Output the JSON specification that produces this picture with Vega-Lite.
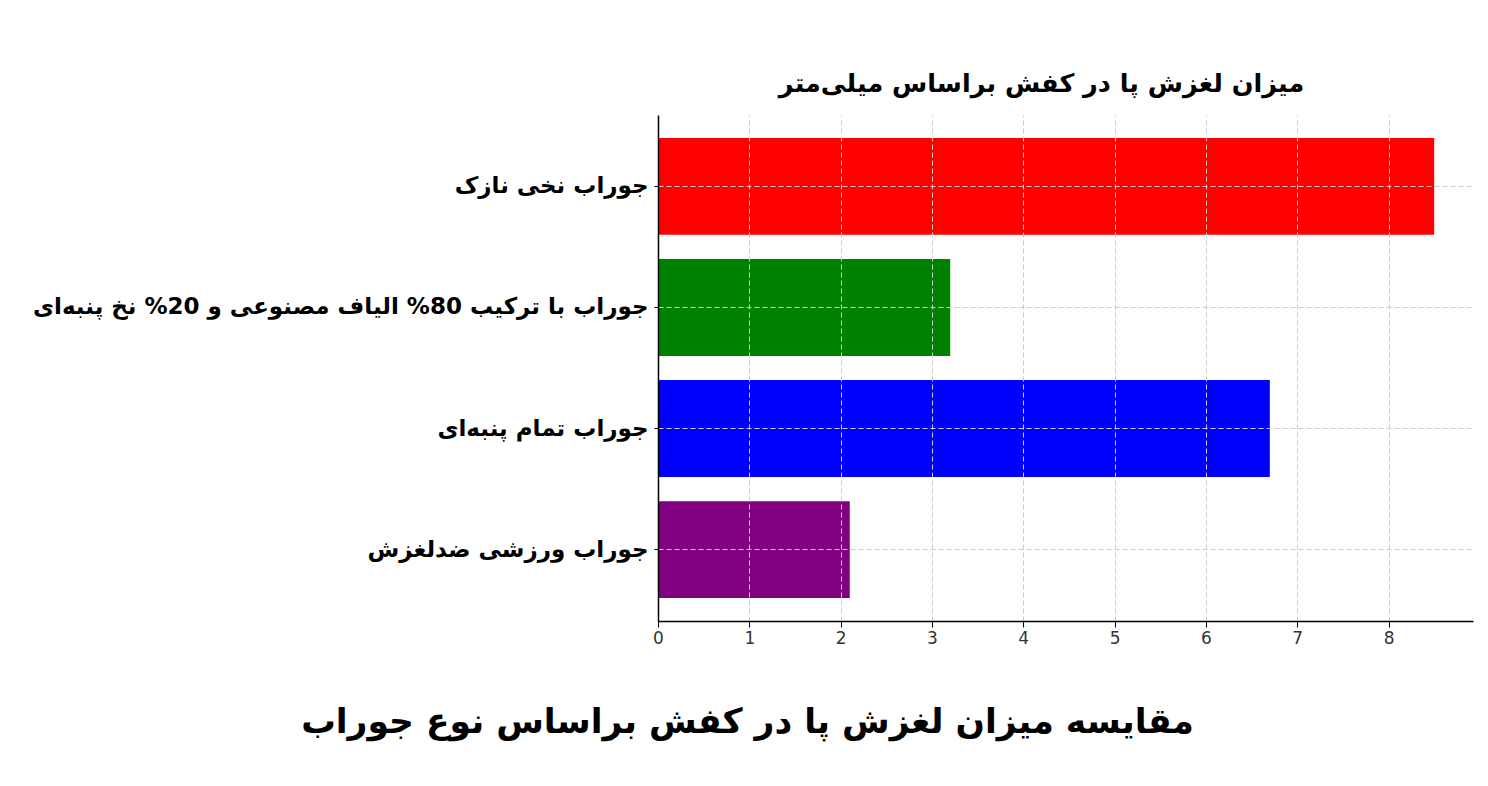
{
  "$schema": "https://vega.github.io/schema/vega-lite/v6.json",
  "autosize": "none",
  "padding": {"left": 658, "top": 115, "right": 15, "bottom": 165},
  "width": 815,
  "height": 506,
  "background": "white",
  "data": {
    "values": [
      {"sock": "جوراب نخی نازک", "slip": 8.5},
      {"sock": "جوراب با ترکیب 80% الیاف مصنوعی و 20% نخ پنبه‌ای", "slip": 3.2},
      {"sock": "جوراب تمام پنبه‌ای", "slip": 6.7},
      {"sock": "جوراب ورزشی ضدلغزش", "slip": 2.1}
    ]
  },
  "title": {
    "text": "میزان لغزش پا در کفش براساس میلی‌متر",
    "font": "DejaVu Sans",
    "fontSize": 25.5,
    "fontWeight": "bold",
    "color": "black",
    "anchor": "middle",
    "dx": -24,
    "offset": 18
  },
  "mark": {"type": "bar"},
  "encoding": {
    "y": {
      "field": "sock",
      "type": "nominal",
      "sort": null,
      "scale": {"paddingInner": 0.2, "paddingOuter": 0.19},
      "axis": {
        "title": null,
        "labelFont": "DejaVu Sans",
        "labelFontSize": 23,
        "labelFontWeight": "bold",
        "labelColor": "black",
        "labelPadding": 6,
        "labelLimit": 700,
        "domainColor": "black",
        "domainWidth": 1.5,
        "tickColor": "black",
        "tickSize": 4,
        "grid": true,
        "gridColor": "#cccccc",
        "gridDash": [5, 3],
        "gridWidth": 1,
        "zindex": 1
      }
    },
    "x": {
      "field": "slip",
      "type": "quantitative",
      "scale": {"domain": [0, 8.925], "nice": false, "zero": true},
      "axis": {
        "values": [0, 1, 2, 3, 4, 5, 6, 7, 8],
        "title": "مقایسه میزان لغزش پا در کفش براساس نوع جوراب",
        "titleFont": "DejaVu Sans",
        "titleFontSize": 34.5,
        "titleFontWeight": "bold",
        "titleColor": "black",
        "titleAnchor": "middle",
        "titleAlign": "center",
        "titleBaseline": "middle",
        "titleX": 89,
        "titleY": 101,
        "labelFont": "DejaVu Sans",
        "labelFontSize": 17,
        "labelColor": "#333333",
        "labelFlush": false,
        "labelPadding": 3,
        "domainColor": "black",
        "domainWidth": 1.5,
        "tickColor": "black",
        "tickSize": 6,
        "grid": true,
        "gridColor": "#cccccc",
        "gridDash": [5, 3],
        "gridWidth": 1,
        "zindex": 1
      }
    },
    "color": {
      "field": "sock",
      "type": "nominal",
      "legend": null,
      "scale": {
        "domain": [
          "جوراب نخی نازک",
          "جوراب با ترکیب 80% الیاف مصنوعی و 20% نخ پنبه‌ای",
          "جوراب تمام پنبه‌ای",
          "جوراب ورزشی ضدلغزش"
        ],
        "range": ["#ff0000", "#008000", "#0000ff", "#800080"]
      }
    }
  },
  "config": {
    "view": {"stroke": null}
  }
}
